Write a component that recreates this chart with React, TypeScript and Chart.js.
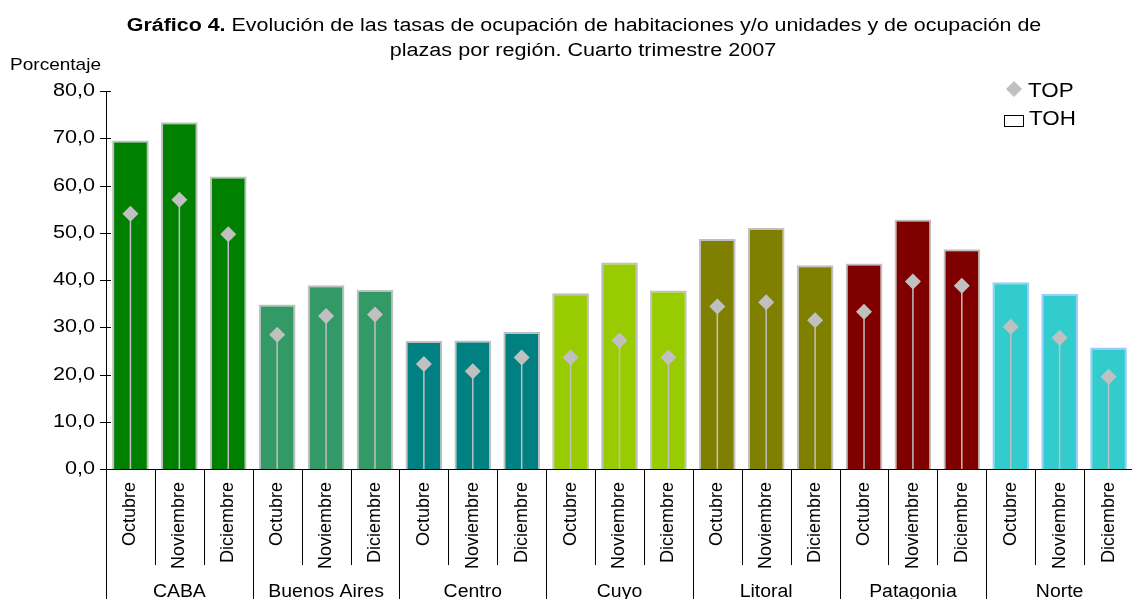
import React, { useEffect, useRef } from "react";
import { Chart, registerables } from "chart.js";

Chart.register(...registerables);

const months = ["Octubre", "Noviembre", "Diciembre"];
const regions = ["CABA", "Buenos Aires", "Centro", "Cuyo", "Litoral", "Patagonia", "Norte"];
const monthLabels = regions.flatMap(() => months);

const tohValues = [
  69.5, 73.4, 61.9,
  34.8, 38.9, 37.9,
  27.1, 27.2, 29.0,
  37.2, 43.7, 37.8,
  48.7, 51.0, 43.1,
  43.5, 52.8, 46.5,
  39.5, 37.1, 25.7,
];
const topValues = [
  54.0, 57.0, 49.7,
  28.4, 32.4, 32.7,
  22.2, 20.7, 23.6,
  23.6, 27.2, 23.6,
  34.4, 35.3, 31.5,
  33.3, 39.7, 38.8,
  30.1, 27.8, 19.5,
];
const regionColors = ["#008000", "#339966", "#008080", "#99CC00", "#808000", "#800000", "#33CCCC"];
const regionBorders = ["#C0C0C0", "#C0C0C0", "#C0C0C0", "#C0C0C0", "#C0C0C0", "#C0C0C0", "#99CCFF"];
const yTickValues = [0, 10, 20, 30, 40, 50, 60, 70, 80];

const titleBold = "Gráfico 4.";
const titleRest = " Evolución de las tasas de ocupación de habitaciones y/o unidades y de ocupación de";
const titleLine2 = "plazas por región. Cuarto trimestre 2007";
const yAxisTitle = "Porcentaje";
const legendTop = "TOP";
const legendToh = "TOH";

const FAMILY = '"Liberation Sans", Arial, sans-serif';
const POINT_COLOR = "#C0C0C0";

function drawText(
  ctx: CanvasRenderingContext2D,
  s: string,
  x: number,
  y: number,
  align: "left" | "center" | "right",
  font: string,
  sx: number,
  baseline: CanvasTextBaseline = "alphabetic"
) {
  ctx.save();
  ctx.font = font;
  ctx.textBaseline = baseline;
  ctx.textAlign = "left";
  const w = ctx.measureText(s).width * sx;
  const x0 = align === "center" ? x - w / 2 : align === "right" ? x - w : x;
  ctx.translate(x0, y);
  ctx.scale(sx, 1);
  ctx.fillStyle = "#000";
  ctx.fillText(s, 0, 0);
  ctx.restore();
}

const dropLines = {
  id: "dropLines",
  beforeDatasetDraw(chart: any, args: any) {
    if (args.index !== 1) return;
    const ctx = chart.ctx;
    const base = chart.scales.y.getPixelForValue(0);
    ctx.save();
    ctx.strokeStyle = POINT_COLOR;
    ctx.lineWidth = 1.5;
    args.meta.data.forEach((el: any) => {
      ctx.beginPath();
      ctx.moveTo(el.x, el.y);
      ctx.lineTo(el.x, base);
      ctx.stroke();
    });
    ctx.restore();
  },
};

const decorations = {
  id: "decorations",
  afterDraw(chart: any) {
    const ctx: CanvasRenderingContext2D = chart.ctx;
    const xs = chart.scales.x;
    const ys = chart.scales.y;
    const area = chart.chartArea;
    const H = chart.height;

    // y ticks and labels
    ctx.save();
    ctx.strokeStyle = "#000";
    ctx.lineWidth = 1;
    yTickValues.forEach((v) => {
      const py = Math.round(ys.getPixelForValue(v)) + 0.5;
      ctx.beginPath();
      ctx.moveTo(area.left - 6, py);
      ctx.lineTo(area.left + 5, py);
      ctx.stroke();
      drawText(ctx, v.toFixed(1).replace(".", ","), area.left - 11, py, "right", `18px ${FAMILY}`, 1.2, "middle");
    });
    ctx.restore();

    drawText(ctx, yAxisTitle, 10, 70, "left", `17px ${FAMILY}`, 1.12);

    // x separators
    const step = xs.getPixelForValue(1) - xs.getPixelForValue(0);
    ctx.save();
    ctx.strokeStyle = "#000";
    ctx.lineWidth = 1;
    for (let i = 0; i <= monthLabels.length; i++) {
      const bx = Math.round(xs.getPixelForValue(0) - step / 2 + i * step) + 0.5;
      const yEnd = i % months.length === 0 ? H : area.bottom + 96;
      ctx.beginPath();
      ctx.moveTo(bx, area.bottom);
      ctx.lineTo(bx, yEnd);
      ctx.stroke();
    }
    ctx.restore();

    regions.forEach((r, g) => {
      const cx = xs.getPixelForValue(g * 3 + 1);
      drawText(ctx, r, cx, 597, "center", `18px ${FAMILY}`, 1.08);
    });

    // title
    ctx.save();
    const sxT = 1.19;
    ctx.font = `bold 18px ${FAMILY}`;
    const wb = ctx.measureText(titleBold).width * sxT;
    ctx.font = `18px ${FAMILY}`;
    const wr = ctx.measureText(titleRest).width * sxT;
    const startX = 584 - (wb + wr) / 2;
    drawText(ctx, titleBold, startX, 31, "left", `bold 18px ${FAMILY}`, sxT);
    drawText(ctx, titleRest, startX + wb, 31, "left", `18px ${FAMILY}`, sxT);
    drawText(ctx, titleLine2, 583, 56, "center", `18px ${FAMILY}`, 1.2);
    ctx.restore();

    // legend
    ctx.save();
    ctx.fillStyle = POINT_COLOR;
    ctx.beginPath();
    ctx.moveTo(1014, 81);
    ctx.lineTo(1022, 89);
    ctx.lineTo(1014, 97);
    ctx.lineTo(1006, 89);
    ctx.closePath();
    ctx.fill();
    ctx.strokeStyle = "#000";
    ctx.lineWidth = 1;
    ctx.fillStyle = "#fff";
    ctx.fillRect(1004.5, 115.5, 19, 11);
    ctx.strokeRect(1004.5, 115.5, 19, 11);
    ctx.restore();
    drawText(ctx, legendTop, 1028, 97, "left", `20px ${FAMILY}`, 1.12);
    drawText(ctx, legendToh, 1029, 125, "left", `20px ${FAMILY}`, 1.12);
  },
};

export default function App() {
  const canvasRef = useRef<HTMLCanvasElement | null>(null);

  useEffect(() => {
    const canvas = canvasRef.current;
    if (!canvas) return;
    const barColors = tohValues.map((_, i) => regionColors[Math.floor(i / 3)]);
    const barBorders = tohValues.map((_, i) => regionBorders[Math.floor(i / 3)]);
    const chart = new Chart(canvas, {
      type: "bar",
      data: {
        labels: monthLabels,
        datasets: [
          {
            type: "bar",
            label: legendToh,
            data: tohValues,
            backgroundColor: barColors,
            borderColor: barBorders,
            borderWidth: 2,
            barPercentage: 0.75,
            categoryPercentage: 1,
            order: 2,
          },
          {
            type: "line",
            label: legendTop,
            data: topValues,
            showLine: false,
            pointStyle: "rectRot",
            pointRadius: 8,
            pointHoverRadius: 8,
            pointBackgroundColor: POINT_COLOR,
            pointBorderWidth: 0,
            pointBorderColor: POINT_COLOR,
            order: 1,
          } as any,
        ],
      },
      options: {
        responsive: false,
        animation: false,
        events: [],
        layout: { padding: { top: 91, right: 1, left: 0, bottom: 0 } },
        plugins: {
          legend: { display: false },
          tooltip: { enabled: false },
          title: { display: false },
        },
        scales: {
          x: {
            type: "category",
            offset: true,
            grid: { display: false },
            border: { display: true, color: "#000", width: 1 },
            ticks: {
              autoSkip: false,
              minRotation: 90,
              maxRotation: 90,
              padding: 5,
              color: "#000",
              font: { family: FAMILY, size: 18 },
            },
            afterFit: (s: any) => {
              s.height = 130;
            },
          },
          y: {
            min: 0,
            max: 80,
            ticks: { stepSize: 10, display: false },
            grid: { display: false },
            border: { display: true, color: "#000", width: 1 },
            afterFit: (s: any) => {
              s.width = 106;
            },
          },
        },
      },
      plugins: [dropLines, decorations],
    });
    return () => chart.destroy();
  }, []);

  return (
    <div
      style={{
        position: "fixed",
        left: 0,
        top: 0,
        width: 1132,
        height: 599,
        overflow: "hidden",
        background: "#fff",
      }}
    >
      <canvas ref={canvasRef} width={1141} height={599} style={{ display: "block" }} />
    </div>
  );
}
